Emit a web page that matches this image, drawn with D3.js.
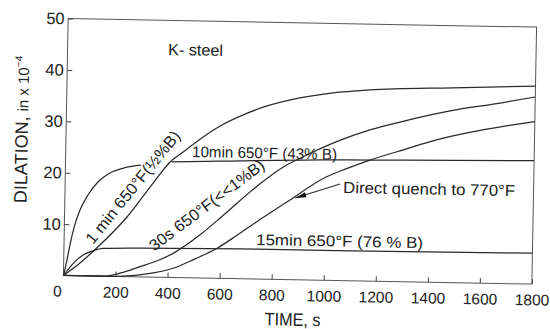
<!DOCTYPE html>
<html><head><meta charset="utf-8">
<script src="https://cdn.jsdelivr.net/npm/d3@7"></script>
<style>
html,body{margin:0;padding:0;background:#fff;}
svg{display:block;}
text{font-family:"Liberation Sans",Arial,sans-serif;fill:#222;}
</style></head><body>
<svg id="chart" width="550" height="329"></svg>
<script>
// ---- data (time in s, dilation in x10^-4 in) ----
const xTickValues = [0, 200, 400, 600, 800, 1000, 1200, 1400, 1600, 1800];
const yTickValues = [10, 20, 30, 40, 50];

const oneMin = [[0,0],[65,2.6],[131,5.7],[240,11.6],[338,18.3],[401,22.4],[465,25.0],[515,27.0],[590,29.6],[693,32.2],[770,33.7],[896,35.4],[1023,36.5],[1165,37.2],[1483,37.9],[1800,38.5]];
const tenMin = [[0,0],[11,2.6],[23,6.0],[37,9.3],[59,12.8],[88,15.7],[126,18.3],[171,20.1],[229,21.2],[290,21.75],[350,null],[408,22.5],[600,22.8],[989,23.4],[1169,23.55],[1500,23.8],[1800,24.0]];
const thirtySec = [[0,0],[150,0],[220,0.7],[293,2.0],[360,3.2],[420,4.7],[522,8.4],[610,12.3],[736,18.0],[837,21.9],[913,23.95],[1040,27.0],[1167,29.4],[1282,31.05],[1474,33.4],[1666,35.1],[1800,36.4]];
const fifteenMin = [[0,0],[37,2.4],[74,4.05],[112,4.9],[151,5.4],[300,5.6],[740,5.8],[1100,5.8],[1800,6.0]];
const directQuench = [[0,0],[150,0],[229,0.1],[320,0.6],[421,1.8],[500,3.6],[587,5.8],[660,8.3],[739,11.15],[865,15.5],[991,19.8],[1080,21.8],[1170,23.55],[1300,25.7],[1424,27.7],[1600,29.8],[1800,31.6]];
const series = [oneMin, tenMin, thirtySec, fifteenMin, directQuench];

// arrow of "Direct quench" annotation, in data units: [tail, tip]
const arrowPts = [[1056, 18.8], [885, 15.9]];

// ---- layout ----
const L = 65.75, R = 534.25, T = 22.8, B = 279.8;
const x = d3.scaleLinear().domain([0, 1800]).range([L, R]);
const y = d3.scaleLinear().domain([0, 50]).range([B, T]);

const svg = d3.select('#chart');
// the scanned figure is tilted by about 1 degree
const g = svg.append('g').attr('transform', 'rotate(1.05,300,151.3)');

// frame
g.append('rect').attr('x', L).attr('y', T).attr('width', R - L).attr('height', B - T)
  .attr('fill', 'none').attr('stroke', '#555').attr('stroke-width', 1);

// x axis
const xa = g.append('g').attr('transform', `translate(0,${B})`)
  .call(d3.axisBottom(x).tickValues(xTickValues).tickSize(-5).tickFormat(d3.format('d')));
xa.select('.domain').remove();
xa.selectAll('.tick line').attr('stroke', '#444');
xa.selectAll('.tick text').attr('y', 21.3).attr('dy', 0)
  .style('font-size', '15.5px').style('font-family', '"Liberation Sans",Arial,sans-serif').attr('fill', '#222')
  .attr('dx', d => d === 0 ? -6.3 : 0);

// y axis
const ya = g.append('g').attr('transform', `translate(${L},0)`)
  .call(d3.axisLeft(y).tickValues(yTickValues).tickSize(-5).tickPadding(3.5));
ya.select('.domain').remove();
ya.selectAll('.tick line').attr('stroke', '#444');
ya.selectAll('.tick text').style('font-size', '16.5px')
  .style('font-family', '"Liberation Sans",Arial,sans-serif').attr('fill', '#222');

// axis titles
const yt = g.append('text').attr('transform', 'translate(27.6,134.5) rotate(-90)')
  .attr('text-anchor', 'middle').style('font-size', '18px');
yt.append('tspan').text('DILATION, ');
yt.append('tspan').style('font-size', '15px').text('in x 10');
yt.append('tspan').attr('dy', -7).style('font-size', '10px').text('−4');

g.append('text').attr('x', 295.7).attr('y', 325.8).attr('text-anchor', 'middle')
  .style('font-size', '18px').attr('textLength', 56).attr('lengthAdjust', 'spacingAndGlyphs')
  .text('TIME, s');

// curves
const line = d3.line().defined(d => d[1] !== null)
  .x(d => x(d[0])).y(d => y(d[1])).curve(d3.curveMonotoneX);
g.selectAll('path.curve').data(series).join('path').attr('class', 'curve')
  .attr('d', line).attr('fill', 'none').attr('stroke', '#2a2a2a').attr('stroke-width', 1.25);

// arrow
const [tail, tip] = arrowPts;
const tx = x(tail[0]), ty = y(tail[1]), px = x(tip[0]), py = y(tip[1]);
const ang = Math.atan2(py - ty, px - tx);
g.append('line').attr('x1', tx).attr('y1', ty).attr('x2', px).attr('y2', py)
  .attr('stroke', '#2a2a2a').attr('stroke-width', 1.1);
const hl = 11, hw = 2.6;
const bx = px - hl * Math.cos(ang), by = py - hl * Math.sin(ang);
g.append('path').attr('d', `M${px},${py}L${bx - hw * Math.sin(ang)},${by + hw * Math.cos(ang)}L${bx + hw * Math.sin(ang)},${by - hw * Math.cos(ang)}Z`)
  .attr('fill', '#111');

// labels
const labels = [
  {text: 'K- steel', x: 166.2, y: 57.4, size: 16, len: 55},
  {text: '10min 650°F (43% B)', x: 192.1, y: 159, size: 15.5, len: 145},
  {text: 'Direct quench to 770°F', x: 343.8, y: 192.2, size: 16, len: 172},
  {text: '15min 650°F (76 % B)', x: 257.7, y: 245.8, size: 15.5, len: 167},
  {text: '1 min 650°F(½%B)', x: 94.7, y: 248.8, size: 16, len: 140, rot: -52},
  {text: '30s 650°F(<<1%B)', x: 156.1, y: 254.4, size: 16, len: 140, rot: -38.1}
];
labels.forEach(l => {
  g.append('text')
    .attr('transform', `translate(${l.x},${l.y}) rotate(${l.rot || 0})`)
    .style('font-size', l.size + 'px')
    .attr('textLength', l.len).attr('lengthAdjust', 'spacingAndGlyphs')
    .text(l.text);
});
</script>
</body></html>
